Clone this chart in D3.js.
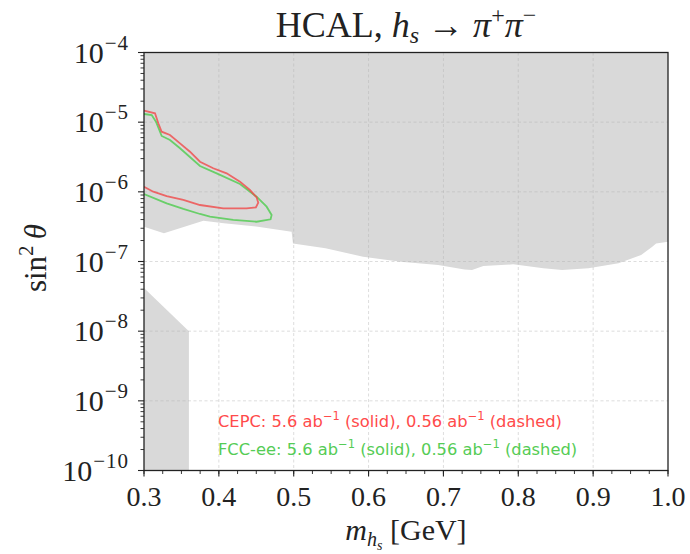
<!DOCTYPE html>
<html><head><meta charset="utf-8">
<script src="https://cdn.jsdelivr.net/npm/d3@7"></script>
<style>body{margin:0;background:#fff}</style></head>
<body><svg id="c" width="690" height="554" xmlns="http://www.w3.org/2000/svg"></svg>
<script>
// ---- data ----
const xDomain = [0.3, 1.0];
const yDomain = [1e-10, 1e-4];
const xTicks = [0.3, 0.4, 0.5, 0.6, 0.7, 0.8, 0.9, 1.0];
const xTickLabels = ["0.3", "0.4", "0.5", "0.6", "0.7", "0.8", "0.9", "1.0"];
const yTickExps = [-10, -9, -8, -7, -6, -5, -4];

// lower edge of the excluded (grey) upper region
const boundMass = [0.3, 0.3266, 0.3793, 0.4068, 0.4521, 0.4972, 0.499, 0.5425, 0.5927, 0.6429, 0.6929,
  0.7282, 0.7382, 0.7533, 0.7933, 0.8335, 0.8586, 0.8937, 0.9339, 0.9641, 0.979, 0.9841, 1.0];
const boundVal = [3.16e-7, 2.54e-7, 3.85e-7, 3.53e-7, 3.16e-7, 2.68e-7, 1.82e-7, 1.55e-7, 1.17e-7, 9.9e-8, 8.9e-8,
  7.7e-8, 7.55e-8, 8.6e-8, 9.1e-8, 8.0e-8, 7.55e-8, 8.0e-8, 9.4e-8, 1.24e-7, 1.63e-7, 1.82e-7, 1.92e-7];

// lower-left excluded region
const lowMass = [0.3, 0.3, 0.36, 0.36];
const lowVal = [1e-10, 4.17e-8, 1e-8, 1e-10];

// CEPC contour (5.6 ab^-1), log10 values
const cepcMass = [0.3, 0.3147, 0.3191, 0.3236, 0.3347, 0.3481, 0.3614, 0.3748, 0.3925, 0.4104, 0.4282, 0.4415,
  0.4504, 0.4526, 0.4495, 0.4371, 0.4059, 0.3748, 0.3525, 0.3303, 0.3124, 0.3];
const cepcLog = [-4.835, -4.873, -5.016, -5.137, -5.184, -5.304, -5.424, -5.568, -5.662, -5.734, -5.854, -5.974,
  -6.078, -6.156, -6.222, -6.236, -6.236, -6.189, -6.117, -6.060, -5.998, -5.926];

// FCC-ee contour (5.6 ab^-1), log10 values
const fccMass = [0.3, 0.3103, 0.316, 0.3236, 0.3347, 0.3481, 0.3748, 0.3971, 0.4282, 0.4504, 0.4638, 0.4705,
  0.4691, 0.4504, 0.4192, 0.3881, 0.3748, 0.3525, 0.3303, 0.3];
const fccLog = [-4.883, -4.897, -4.993, -5.198, -5.256, -5.375, -5.629, -5.734, -5.887, -6.070, -6.213, -6.332,
  -6.394, -6.429, -6.404, -6.357, -6.318, -6.246, -6.165, -6.031];

const legendLines = [
  {name: "CEPC", color: "#ff4b4b"},
  {name: "FCC-ee", color: "#55cc55"}
];

// ---- layout ----
const L = 144, R = 668, T = 52.5, B = 470.5;
const svg = d3.select("#c");
const x = d3.scaleLinear().domain(xDomain).range([L, R]);
const y = d3.scaleLog().domain(yDomain).range([B, T]);
const serif = "'Liberation Serif', 'DejaVu Serif', serif";
const sans = "'DejaVu Sans', sans-serif";

svg.append("defs").append("clipPath").attr("id", "clip")
  .append("rect").attr("x", L).attr("y", T).attr("width", R - L).attr("height", B - T);
const plot = svg.append("g").attr("clip-path", "url(#clip)");

// excluded regions
const upperPts = boundMass.map((m, i) => [m, boundVal[i]]);
upperPts.push([1.0, 1e-4], [0.3, 1e-4]);
const line = d3.line().x(d => x(d[0])).y(d => y(d[1]));
plot.append("path").attr("d", line(upperPts) + "Z").attr("fill", "#d9d9d9");
plot.append("path").attr("d", line(lowMass.map((m, i) => [m, lowVal[i]])) + "Z").attr("fill", "#d9d9d9");

// grid
const grid = plot.append("g").attr("stroke", "#b0b0b0").attr("stroke-opacity", 0.55)
  .attr("stroke-width", 0.8).attr("stroke-dasharray", "3,2.5");
xTicks.slice(1, -1).forEach(t => grid.append("line").attr("x1", x(t)).attr("x2", x(t)).attr("y1", T).attr("y2", B));
yTickExps.slice(1, -1).forEach(e => grid.append("line").attr("x1", L).attr("x2", R).attr("y1", y(Math.pow(10, e))).attr("y2", y(Math.pow(10, e))));

// contours
const cline = d3.line().x(d => x(d[0])).y(d => y(Math.pow(10, d[1])));
plot.append("path").attr("d", cline(fccMass.map((m, i) => [m, fccLog[i]])))
  .attr("fill", "none").attr("stroke", "#55cc55").attr("stroke-opacity", 0.85).attr("stroke-width", 1.8);
plot.append("path").attr("d", cline(cepcMass.map((m, i) => [m, cepcLog[i]])))
  .attr("fill", "none").attr("stroke", "#f04848").attr("stroke-opacity", 0.8).attr("stroke-width", 1.8);

// frame
svg.append("rect").attr("x", L).attr("y", T).attr("width", R - L).attr("height", B - T)
  .attr("fill", "none").attr("stroke", "#222").attr("stroke-width", 1.3);

// x axis ticks
const xMinor = d3.range(0.3, 1.0001, 0.025);
const tk = svg.append("g").attr("stroke", "#222");
xMinor.forEach(v => tk.append("line").attr("x1", x(v)).attr("x2", x(v)).attr("y1", B).attr("y2", B + 3.5).attr("stroke-width", 0.9));
xTicks.forEach(v => tk.append("line").attr("x1", x(v)).attr("x2", x(v)).attr("y1", B).attr("y2", B + 6).attr("stroke-width", 1.1));
xTicks.forEach((v, i) => svg.append("text").attr("x", x(v)).attr("y", 506).attr("text-anchor", "middle")
  .attr("font-family", serif).attr("font-size", 28).attr("fill", "#222").text(xTickLabels[i]));

// y axis ticks
yTickExps.forEach(e => {
  tk.append("line").attr("x1", L - 6).attr("x2", L).attr("y1", y(Math.pow(10, e))).attr("y2", y(Math.pow(10, e))).attr("stroke-width", 1.1);
  if (e < -4) for (let k = 2; k <= 9; k++) {
    const v = k * Math.pow(10, e);
    tk.append("line").attr("x1", L - 3.5).attr("x2", L).attr("y1", y(v)).attr("y2", y(v)).attr("stroke-width", 0.9);
  }
  const t = svg.append("text").attr("x", 129).attr("y", y(Math.pow(10, e)) + 10).attr("text-anchor", "end")
    .attr("font-family", serif).attr("fill", "#222");
  t.append("tspan").attr("font-size", 30).text("10");
  t.append("tspan").attr("font-size", 21).attr("dy", -13).attr("dx", 1).attr("letter-spacing", 1).text("\u2212" + Math.abs(e));
});

// title
const title = svg.append("text").attr("x", 406).attr("y", 37).attr("text-anchor", "middle")
  .attr("font-family", serif).attr("font-size", 36).attr("fill", "#222");
title.append("tspan").text("HCAL, ");
title.append("tspan").attr("font-style", "italic").text("h");
title.append("tspan").attr("font-style", "italic").attr("font-size", 24).attr("dy", 6).text("s");
title.append("tspan").attr("dy", -6).text(" \u2192 ");
title.append("tspan").attr("font-style", "italic").text("\u03c0");
title.append("tspan").attr("font-size", 24).attr("dy", -14).text("+");
title.append("tspan").attr("font-style", "italic").attr("dy", 14).text("\u03c0");
title.append("tspan").attr("font-size", 24).attr("dy", -14).text("\u2212");

// x label
const xl = svg.append("text").attr("x", 406).attr("y", 540).attr("text-anchor", "middle")
  .attr("font-family", serif).attr("font-size", 30).attr("fill", "#222");
xl.append("tspan").attr("font-style", "italic").text("m");
xl.append("tspan").attr("font-style", "italic").attr("font-size", 20).attr("dy", 6).text("h");
xl.append("tspan").attr("font-style", "italic").attr("font-size", 14).attr("dy", 4).text("s");
xl.append("tspan").attr("dy", -10).text(" [GeV]");

// y label
const yl = svg.append("text").attr("transform", "translate(46,258) rotate(-90)").attr("text-anchor", "middle")
  .attr("font-family", serif).attr("font-size", 31).attr("fill", "#222");
yl.append("tspan").text("sin");
yl.append("tspan").attr("font-size", 21).attr("dy", -13).text("2");
yl.append("tspan").attr("font-style", "italic").attr("dy", 13).text("\u2009\u03b8");

// legend text
legendLines.forEach((d, i) => {
  const t = svg.append("text").attr("x", 218).attr("y", 427 + i * 28).attr("font-family", sans)
    .attr("font-size", 16.3).attr("fill", d.color);
  t.append("tspan").text(d.name + ": 5.6 ab");
  t.append("tspan").attr("font-size", 11.5).attr("dy", -7).text("\u22121");
  t.append("tspan").attr("dy", 7).text(" (solid), 0.56 ab");
  t.append("tspan").attr("font-size", 11.5).attr("dy", -7).text("\u22121");
  t.append("tspan").attr("dy", 7).text(" (dashed)");
});
</script></body></html>
